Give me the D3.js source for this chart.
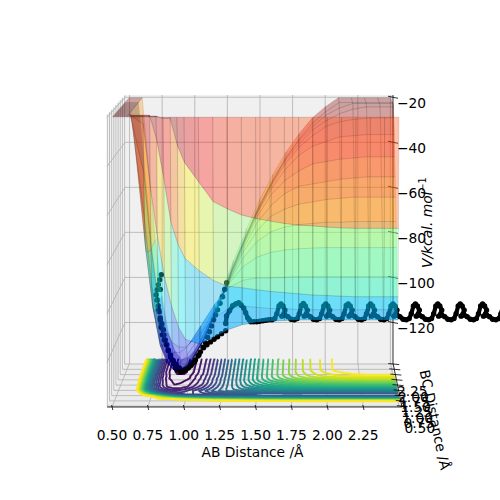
<!DOCTYPE html>
<html><head><meta charset="utf-8">
<script src="https://cdn.jsdelivr.net/npm/d3@7"></script>
<style>html,body{margin:0;padding:0;background:#fff;overflow:hidden}svg{display:block}text{font-family:"DejaVu Sans",sans-serif;fill:#000}</style>
</head><body><svg id="c" width="500" height="500"></svg>
<script>
const xTicks=[0.5,0.75,1,1.25,1.5,1.75,2,2.25,2.5];
const xTickLabels=["0.50","0.75","1.00","1.25","1.50","1.75","2.00","2.25",""];
const yTicks=[0.5,0.75,1,1.25,1.5,1.75,2,2.25,2.5];
const yTickLabels=["0.50","0.75","1.00","1.25","1.50","1.75","2.00","2.25",""];
const zTicks=[-20,-40,-60,-80,-100,-120];
const abGrid=[0.5,0.6,0.7,0.75,0.8,0.85,0.9,0.95,1,1.1,1.2,1.3,1.4,1.5,1.6,1.7,1.8,1.9,2,2.1,2.2,2.3,2.4,2.5];
const bcGrid=[0.5,0.6,0.7,0.8,0.9,1,1.1,1.2,1.3,1.4,1.5,1.6,1.7,1.8,1.9,2,2.5];
const V=[
[300,250,200,160,120,90,60,40,20,5,-5,-10,-14,-16,-18,-19,-20,-20,-20,-20,-20,-20,-20,-20],
[200,120,40,5,-15,-21,-21,-32,-39,-47,-55,-58,-60.5,-62,-63,-64,-64.7,-65,-65.5,-65.8,-66,-66,-66,-66],
[150,80,20,-5,-30,-46,-64,-73,-79,-84,-88,-90.4,-91,-91.8,-92.5,-93,-93.5,-94,-94.2,-94.5,-94.7,-94.7,-94.7,-94.7],
[100,40,-24,-50,-70,-87,-99,-108,-113,-115,-112,-109,-107,-106,-105.5,-105.2,-105,-105,-105,-105,-105,-105,-105,-105],
[90,30,-45,-75,-97,-109,-115,-117,-117,-111,-105,-101,-100,-100.5,-101,-101,-101.5,-101.5,-101.5,-101.5,-101.5,-101.5,-101.5,-101.5],
[80,20,-65,-92,-108,-116,-120,-120,-118,-109,-100,-93,-90,-89,-89,-88.7,-88.5,-88.5,-88.5,-88.5,-88.5,-88.5,-88.5,-88.5],
[80,15,-76,-100,-115,-122,-125,-125,-122,-113,-102,-92,-85,-81,-79,-78,-77.5,-77.2,-77,-77,-77,-77,-77,-77],
[80,15,-79,-103,-118,-126,-129,-128.5,-126,-116,-104,-92,-82,-75,-71,-69,-68,-67.5,-67,-67,-66.7,-66.7,-66.7,-66.7],
[80,10,-80,-105,-120,-127,-130,-129.5,-127,-118,-105,-92,-80,-71,-65,-62,-60,-59,-58,-57.5,-57,-57,-57,-57],
[80,10,-81,-106,-120,-128,-131,-130,-128,-119,-106,-92,-79,-68,-61,-56,-53,-52,-51,-50,-49.5,-49,-49,-49],
[80,10,-81,-106,-121,-129,-131.5,-131,-129,-119,-106,-92,-78,-66,-57,-51,-47,-44,-43,-42,-41.5,-41,-41,-41],
[80,5,-82,-107,-122,-130,-132.5,-132,-130,-120,-106,-92,-78,-65,-55,-47,-41,-37,-35,-33,-32.5,-32,-32,-32],
[80,5,-82,-107,-122,-130,-133,-133,-130,-120,-107,-92,-78,-65,-54,-45,-38,-33,-29,-27,-26,-25.5,-25.3,-25.3],
[80,5,-83,-108,-123,-131,-134,-134,-131,-121,-107,-92,-78,-65,-54,-44,-37,-31,-27,-24,-22,-21,-21,-21],
[80,5,-83,-108,-124,-132,-135,-135,-132,-121,-107,-92,-78,-65,-54,-44,-36,-30,-25,-22,-20,-20,-20,-20],
[80,5,-83,-108,-124,-132,-136,-135,-132,-121,-107,-92,-78,-65,-54,-44,-36,-29,-24,-20,-18,-18,-18,-18],
[80,5,-83,-108,-124,-132,-136,-135,-132,-121,-107,-92,-78,-65,-54,-44,-36,-29,-24,-20,-16,-14,-12,-10]
];
const contourLevels=[-134,-130,-126,-122,-118,-114,-110,-106,-102,-98,-94,-90,-86,-82,-78,-74,-70,-66,-62,-58,-54,-50,-46,-42,-38,-34,-30,-26,-22];
const contourZ=-136;
const trajBC=0.74;
const trajAB=[1.292,1.278,1.263,1.245,1.228,1.214,1.2,1.185,1.171,1.157,1.143,1.125,1.107,1.09,1.072,1.054,1.036,1.018,1,0.983,0.966,0.948,0.93,0.92,0.909,0.895,0.88,0.87,0.859,0.85,0.845,0.835,0.824,0.817,0.81,0.802,0.795,0.802,0.81,0.82,0.831,0.824,0.803,0.812,0.824,0.83,0.838,0.852,0.866,0.88,0.895,0.916,0.937,0.958,0.98,1.001,1.022,1.044,1.065,1.097,1.129,1.153,1.178,1.203,1.228,1.256,1.285,
1.285,1.291,1.312,1.334,1.355,1.377,1.395,1.412,1.426,1.44,1.451,1.462,1.483,1.504,1.525,1.547,1.568,1.589,
1.611,1.631,1.646,1.661,1.675,1.689,1.703,1.696,1.681,1.703,1.724,1.746,
1.769,1.789,1.804,1.819,1.833,1.847,1.861,1.854,1.839,1.861,1.882,1.904,
1.927,1.947,1.962,1.977,1.991,2.005,2.019,2.012,1.997,2.019,2.04,2.062,
2.085,2.105,2.12,2.135,2.149,2.163,2.177,2.17,2.155,2.177,2.198,2.22,
2.243,2.263,2.278,2.293,2.307,2.321,2.335,2.328,2.313,2.335,2.356,2.378,
2.401,2.421,2.436,2.451,2.465,2.479,2.493,2.486,2.471,2.493,2.514,2.536,
2.559,2.579,2.594,2.609,2.623,2.637,2.651,2.644,2.629,2.651,2.672,2.694,
2.717,2.737,2.752,2.767,2.781,2.795,2.809,2.802,2.787,2.809,2.83,2.852,
2.875,2.895,2.91,2.925,2.939,2.953,2.967,2.96,2.945,2.967,2.988,3.01,
3.033,3.053,3.068,3.083,3.097,3.111,3.125,3.118,3.103,3.125,3.146,3.168,
3.191,3.211,3.226,3.241,3.255,3.269,3.283];
const trajV=[-89.2,-92,-95,-97.7,-100.4,-102.4,-104.5,-107,-109.4,-111.7,-114,-115.8,-117.7,-119.4,-121,-122.2,-123.5,-124.4,-125.2,-125.6,-126,-125.2,-124.3,-122.6,-121,-119,-116.9,-114.8,-112.8,-110.7,-108.6,-106.1,-103.7,-101.2,-98.7,-96.4,-94.2,-92.1,-90,-88,-85.9,-92,-96.2,-100.3,-104.5,-107.6,-110.7,-112.8,-114.8,-117.3,-119.8,-121.4,-123,-124.3,-125.6,-125,-124.3,-123,-121.8,-118.9,-116,-114.8,-113.6,-112.5,-111.5,-110.2,-109,
-106,-102.9,-100.8,-98.7,-98,-97.5,-98.5,-99.6,-101.6,-103.7,-104.5,-105.3,-105.3,-105.3,-105.1,-104.9,-104.7,-104.5,
-104.5,-104,-102,-98.8,-98,-98.8,-100.5,-102,-103,-102.5,-103.2,-104.3,
-104.5,-104,-102,-98.6,-97.8,-98.8,-100.5,-102,-103,-102.5,-103.2,-104.3,
-104.5,-104,-102,-98.8,-98,-98.8,-100.5,-102,-103,-102.5,-103.2,-104.3,
-104.5,-104,-102,-98.6,-98,-98.8,-100.5,-102,-103,-102.5,-103.2,-104.3,
-104.5,-104,-102,-98.8,-98,-98.8,-100.5,-102,-103,-102.5,-103.2,-104.3,
-104.5,-104,-102,-98.8,-98,-98.8,-100.5,-102,-103,-102.5,-103.2,-104.3,
-104.5,-104,-102,-98.8,-98,-98.8,-100.5,-102,-103,-102.5,-103.2,-104.3,
-104.5,-104,-102,-98.8,-98,-98.8,-100.5,-102,-103,-102.5,-103.2,-104.3,
-104.5,-104,-102,-98.8,-98,-98.8,-100.5,-102,-103,-102.5,-103.2,-104.3,
-104.5,-104,-102,-98.8,-98,-98.8,-100.5,-102,-103,-102.5,-103.2,-104.3,
-104.5,-104,-102,-98.8,-98,-98.8,-100.5];
const jetStops=["#000080","#0000ff","#007fff","#00ffff","#7fff7f","#ffff00","#ff7f00","#ff0000","#800000"];
const xLim=[0.465,2.52], yLim=[0.46,2.55], zLim=[-138,-19];

const svg=d3.select("#c");
const uS=d3.scaleLinear().domain(xLim).range([0,1]);
const vS=d3.scaleLinear().domain(yLim).range([0,1]);
const wS=d3.scaleLinear().domain(zLim).range([0,1]);
const left=d3.scaleLinear().domain([0,1]).range([107,125]);
const widthS=d3.scaleLinear().domain([0,1]).range([295,268]);
const base=d3.scaleLinear().domain([0,1]).range([407,363]);
const height=d3.scaleLinear().domain([0,1]).range([292,268]);
function P(a,b,c){const v=vS(b);return [left(v)+uS(a)*widthS(v), base(v)-wS(c)*height(v)];}
const path=pts=>"M"+pts.map(p=>p[0].toFixed(2)+","+p[1].toFixed(2)).join("L");
const poly=pts=>path(pts)+"Z";
const [x0,x1]=xLim,[y0,y1]=yLim,[z0,z1]=zLim;
// panes
svg.append("path").attr("d",poly([P(x0,y0,z0),P(x0,y1,z0),P(x0,y1,z1),P(x0,y0,z1)])).attr("fill","#f2f2f2");
svg.append("path").attr("d",poly([P(x0,y1,z0),P(x1,y1,z0),P(x1,y1,z1),P(x0,y1,z1)])).attr("fill","#f0f0f0");
svg.append("path").attr("d",poly([P(x0,y0,z0),P(x1,y0,z0),P(x1,y1,z0),P(x0,y1,z0)])).attr("fill","#ebebeb");
// grid
const grid=svg.append("g").attr("fill","none").attr("stroke","#b0b0b0").attr("stroke-width",0.8);
xTicks.forEach(t=>grid.append("path").attr("d",path([P(t,y0,z0),P(t,y1,z0),P(t,y1,z1)])));
yTicks.forEach(t=>grid.append("path").attr("d",path([P(x1,t,z0),P(x0,t,z0),P(x0,t,z1)])));
zTicks.forEach(t=>grid.append("path").attr("d",path([P(x0,y0,t),P(x0,y1,t),P(x1,y1,t)])));
// contours (bilinear lookup in the table, contoured by d3)
const nx=201,ny=201,abS=d3.scaleLinear().domain([0,nx-1]).range([0.5,2.5]),bcS=d3.scaleLinear().domain([0,ny-1]).range([0.5,2.5]);
const vals=new Float64Array(nx*ny);
const idx=(g,q)=>Math.max(0,Math.min(g.length-2,d3.bisectRight(g,q)-1));
for(let j=0;j<ny;j++)for(let i=0;i<nx;i++){
 const a=abS(i),b=bcS(j),ia=idx(abGrid,a),ib=idx(bcGrid,b);
 const ta=(a-abGrid[ia])/(abGrid[ia+1]-abGrid[ia]),tb=(b-bcGrid[ib])/(bcGrid[ib+1]-bcGrid[ib]);
 vals[j*nx+i]=(V[ib][ia]*(1-ta)+V[ib][ia+1]*ta)*(1-tb)+(V[ib+1][ia]*(1-ta)+V[ib+1][ia+1]*ta)*tb;
}
const cs=d3.contours().size([nx,ny]).thresholds(contourLevels)(vals);
const viri=d3.scaleSequential(d3.interpolateViridis).domain([contourLevels[0],contourLevels[contourLevels.length-1]]);
const gC=svg.append("g").attr("fill","none").attr("stroke-width",1.9).attr("stroke-linejoin","round");
const onEdge=p=>p[0]<=0.01||p[0]>=nx-0.01||p[1]<=0.01||p[1]>=ny-0.01;
cs.forEach(c=>{let d="";c.coordinates.forEach(pg=>pg.forEach(ring=>{
  let open=false;
  for(let k=0;k<ring.length-1;k++){
    const p=ring[k],q=ring[k+1];
    if(onEdge(p)&&onEdge(q)){open=false;continue;}
    const P1=P(abS(p[0]-0.5),bcS(p[1]-0.5),contourZ),P2=P(abS(q[0]-0.5),bcS(q[1]-0.5),contourZ);
    if(!open){d+="M"+P1[0].toFixed(1)+","+P1[1].toFixed(1);open=true;}
    d+="L"+P2[0].toFixed(1)+","+P2[1].toFixed(1);
  }}));
  gC.append("path").attr("d",d).attr("stroke",viri(c.value));
});
// axes
const ax=svg.append("g").attr("fill","none").attr("stroke","#000").attr("stroke-width",0.8);
ax.append("path").attr("d",path([P(x0,y0,z0),P(x1,y0,z0)]));
ax.append("path").attr("d",path([P(x1,y0,z0),P(x1,y1,z0)]));
ax.append("path").attr("d",path([P(x1,y1,z0),P(x1,y1,z1)]));
xTicks.slice(0,8).forEach(t=>{const p=P(t,y0,z0);ax.append("path").attr("d",`M${p[0]-0.4},${p[1]-2}L${p[0]+0.8},${p[1]+3}`);});
yTicks.forEach(t=>{const p=P(x1,t,z0);ax.append("path").attr("d",`M${p[0]-5},${p[1]-0.5}L${p[0]+6},${p[1]+0.5}`);});
zTicks.forEach(t=>{const p=P(x1,y1,t);ax.append("path").attr("d",`M${p[0]-5},${p[1]-1}L${p[0]+5},${p[1]+1}`);});
// trajectory (below the surface)
const tr=trajAB.map((a,i)=>P(a,trajBC,trajV[i]));
const line=d3.line();
svg.append("path").attr("d",line(tr.slice(67))).attr("fill","none").attr("stroke","#000").attr("stroke-width",4.2).attr("stroke-linejoin","round").attr("stroke-linecap","round");
svg.append("g").selectAll("circle").data(tr).join("circle").attr("cx",d=>d[0]).attr("cy",d=>d[1]).attr("r",2.7).attr("fill","#000");
// surface, back to front
const clip=v=>Math.min(v,-20);
const jet=d3.scaleLinear().domain(d3.quantize(d3.interpolateNumber(-136,-20),jetStops.length)).range(jetStops);
const gS=svg.append("g").attr("fill-opacity",0.33).attr("stroke","#000").attr("stroke-opacity",0.2).attr("stroke-width",0.5);
for(let j=bcGrid.length-2;j>=0;j--)for(let i=0;i<abGrid.length-1;i++){
  const a=clip(V[j][i]),b=clip(V[j][i+1]),c=clip(V[j+1][i]),d=clip(V[j+1][i+1]);
  gS.append("path").attr("d",poly([P(abGrid[i],bcGrid[j],a),P(abGrid[i+1],bcGrid[j],b),P(abGrid[i+1],bcGrid[j+1],d),P(abGrid[i],bcGrid[j+1],c)])).attr("fill",jet((a+b+c+d)/4));
}
// labels
const fs=13.8;
xTicks.forEach((t,i)=>{const p=P(t,y0,z0);svg.append("text").attr("x",p[0]).attr("y",p[1]+33).attr("text-anchor","middle").attr("font-size",fs).text(xTickLabels[i]);});
yTicks.forEach((t,i)=>{const p=P(x1,t,z0);svg.append("text").attr("x",p[0]+18).attr("y",p[1]+27).attr("text-anchor","middle").attr("font-size",fs).text(yTickLabels[i]);});
zTicks.forEach(t=>{const p=P(x1,y1,t);svg.append("text").attr("x",397).attr("y",p[1]+11).attr("font-size",fs).text("\u2212"+Math.abs(t));});
svg.append("text").attr("x",252.5).attr("y",457).attr("text-anchor","middle").attr("font-size",fs).text("AB Distance /\u00c5");
svg.append("text").attr("transform","translate(434,420) rotate(78)").attr("text-anchor","middle").attr("font-size",fs).attr("y",4).text("BC Distance /\u00c5");
const vl=svg.append("text").attr("transform","translate(432,268) rotate(-90)").attr("font-size",fs).attr("font-style","italic");
vl.append("tspan").text("V/kcal. mol");
vl.append("tspan").attr("dy",-6).attr("font-size",9.7).attr("font-style","normal").text("\u22121");
</script></body></html>
